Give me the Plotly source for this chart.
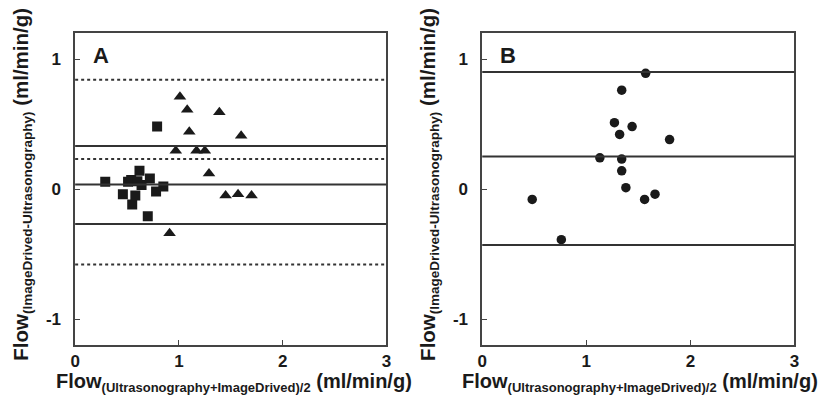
import plotly.graph_objects as go

# ---- Data ----
a_sq_x = [0.29, 0.51, 0.54, 0.62, 0.64, 0.72, 0.46, 0.58, 0.55, 0.78, 0.85, 0.70, 0.79, 0.60]
a_sq_y = [0.055, 0.055, 0.07, 0.14, 0.03, 0.08, -0.04, -0.05, -0.12, -0.02, 0.02, -0.21, 0.48, 0.06]

a_tri_x = [1.01, 1.08, 1.39, 1.10, 1.60, 0.97, 1.17, 1.25, 1.29, 1.45, 1.57, 1.70, 0.91]
a_tri_y = [0.71, 0.61, 0.59, 0.44, 0.41, 0.295, 0.295, 0.295, 0.12, -0.05, -0.04, -0.05, -0.34]

a_solid = [0.33, 0.035, -0.27]
a_dotted = [0.84, 0.23, -0.58]

b_x = [1.57, 1.34, 1.27, 1.44, 1.32, 1.80, 1.13, 1.34, 1.34, 1.38, 1.56, 1.66, 0.48, 0.76]
b_y = [0.89, 0.76, 0.51, 0.48, 0.42, 0.38, 0.24, 0.23, 0.14, 0.01, -0.08, -0.04, -0.08, -0.39]
b_solid = [0.90, 0.25, -0.43]

x_ticks = [0, 1, 2, 3]
x_ticktext = ["0", "1", "2", "3"]
y_ticks = [-1, 0, 1]
y_ticktext = ["-1", "0", "1"]
panel_labels = ["A", "B"]

FONT = "Liberation Sans, Arial, sans-serif"
INK = "#1a1a1a"

fig = go.Figure()

fig.add_trace(go.Scatter(x=a_sq_x, y=a_sq_y, mode="markers", xaxis="x", yaxis="y",
                         marker=dict(symbol="square", size=10, color=INK), showlegend=False))
fig.add_trace(go.Scatter(x=a_tri_x, y=a_tri_y, mode="markers", xaxis="x", yaxis="y",
                         marker=dict(symbol="triangle-up", size=11, color=INK), showlegend=False))
fig.add_trace(go.Scatter(x=b_x, y=b_y, mode="markers", xaxis="x2", yaxis="y2",
                         marker=dict(symbol="circle", size=9.5, color=INK), showlegend=False))

for v in a_solid:
    fig.add_shape(type="line", xref="x domain", yref="y", x0=0, x1=1, y0=v, y1=v,
                  line=dict(color="#333", width=2))
for v in a_dotted:
    fig.add_shape(type="line", xref="x domain", yref="y", x0=0, x1=1, y0=v, y1=v,
                  line=dict(color="#333", width=2, dash="dot"))
for v in b_solid:
    fig.add_shape(type="line", xref="x2 domain", yref="y2", x0=0, x1=1, y0=v, y1=v,
                  line=dict(color="#333", width=2))

axis_common = dict(showgrid=False, zeroline=False, showline=True, mirror=True,
                   linecolor="#444", linewidth=1.5, ticks="inside", ticklen=5,
                   tickcolor="#444",
                   tickfont=dict(family=FONT, size=17, color=INK, weight="bold"))

fig.update_layout(
    width=839, height=396, margin=dict(l=0, r=0, t=0, b=0),
    paper_bgcolor="white", plot_bgcolor="white",
    xaxis=dict(domain=[71/839, 386/839], range=[0, 3], tickvals=x_ticks, ticktext=x_ticktext,
               anchor="y", ticklabelstandoff=0, **axis_common),
    yaxis=dict(domain=[1-345/396, 1-33/396], range=[-1.2, 1.2], tickvals=y_ticks, ticktext=y_ticktext,
               anchor="x", ticklabelstandoff=9, **axis_common),
    xaxis2=dict(domain=[483/839, 799/839], range=[0, 3], tickvals=x_ticks, ticktext=x_ticktext,
                anchor="y2", ticklabelstandoff=0, **axis_common),
    yaxis2=dict(domain=[1-345/396, 1-33/396], range=[-1.2, 1.2], tickvals=y_ticks, ticktext=y_ticktext,
                anchor="x2", ticklabelstandoff=9, **axis_common),
)

xtitle = ('Flow<sub><span style="font-size:13px">(Ultrasonography+ImageDrived)/2</span></sub>'
          ' (ml/min/g)')
ytitle = ('Flow<sub><span style="font-size:13.5px">(ImageDrived-Ultrasonography)</span></sub>'
          ' (ml/min/g)')

for cx, yx in [(232, 11), (643, 423)]:
    fig.add_annotation(text=xtitle, xref="paper", yref="paper", x=cx/839, y=1-382.5/396,
                       xanchor="center", yanchor="middle", showarrow=False,
                       font=dict(family=FONT, size=20, color=INK, weight="bold"))
    fig.add_annotation(text=ytitle, xref="paper", yref="paper", x=(yx+6)/839, y=1-184/396,
                       xanchor="center", yanchor="middle", showarrow=False, textangle=-90,
                       font=dict(family=FONT, size=20.5, color=INK, weight="bold"))

for lbl, xr, yr in [(panel_labels[0], "x domain", "y domain"), (panel_labels[1], "x2 domain", "y2 domain")]:
    fig.add_annotation(text=lbl, xref=xr, yref=yr, x=0.05, y=0.975, xanchor="left", yanchor="top",
                       showarrow=False, font=dict(family=FONT, size=22, color=INK, weight="bold"))

fig.write_html("out.html")
